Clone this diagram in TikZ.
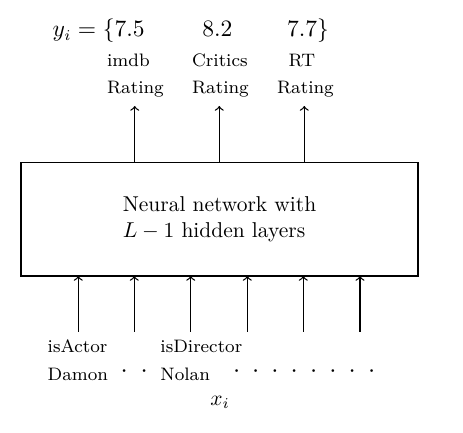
\documentclass[tikz,border=0pt]{standalone}
\begin{document}
\begin{tikzpicture}[x=0.4657pt,y=-0.4657pt,
  lab/.style={anchor=base west,inner sep=0pt,font=\fontsize{8.4}{10}\selectfont},
  topmath/.style={anchor=base west,inner sep=0pt,font=\fontsize{10.5}{12.6}\selectfont},
  arr/.style={->,line width=0.6pt},
  dotnode/.style={anchor=base,inner sep=0pt,font=\fontsize{13}{15}\selectfont}]
\useasboundingbox (0,0) rectangle (463,433);
% main box
\node[draw,line width=0.65pt,minimum width=184.9pt,minimum height=52.8pt,
      inner sep=0pt,outer sep=0pt,align=left] (nn) at (219.5,219.3)
      {Neural network with\\$L-1$ hidden layers};
% outputs
\node[topmath] (yi) at (52.3,36.7) {$y_i=\{7.5$};
\node[topmath] (y2) at (202,36.7) {$8.2$};
\node[topmath] (y3) at (286.7,36.7) {$7.7\}$};
\node[lab] (l1a) at (106.7,66.7) {imdb};
\node[lab] (l1b) at (106.7,94) {Rating};
\node[lab] (l2a) at (191.7,66.7) {Critics};
\node[lab] (l2b) at (191.7,94) {Rating};
\node[lab] (l3a) at (288.3,66.7) {RT};
\node[lab] (l3b) at (276.7,94) {Rating};
% output arrows
\coordinate (t1) at (134.7,106);
\coordinate (t2) at (219.3,106);
\coordinate (t3) at (304.3,106);
\foreach \t in {t1,t2,t3} \draw[arr] (\t |- nn.north) -- (\t);
% input arrows
\coordinate (b1) at (78.3,332);
\coordinate (b2) at (134.3,332);
\coordinate (b3) at (190.7,332);
\coordinate (b4) at (247.3,332);
\coordinate (b5) at (303.3,332);
\coordinate (b6) at (360,332);
\foreach \b in {b1,b2,b3,b4,b5,b6} \draw[arr] (\b) -- (\b |- nn.south);
% inputs
\node[lab] (i1a) at (47.3,352.7) {isActor};
\node[lab] (i1b) at (47.3,380) {Damon};
\node[lab] (i2a) at (160,352.7) {isDirector};
\node[lab] (i2b) at (160,380) {Nolan};
\foreach \x [count=\k] in {124.3,144.3,236.7,255.7,275,294.3,313.7,333,352.3,371.7}
  \node[dotnode] (d\k) at (\x,378.3) {\raisebox{0.3pt}{$\cdot$}};
\node[topmath,font=\normalsize] (xi) at (210,405) {$x_i$};
\end{tikzpicture}
\end{document}
